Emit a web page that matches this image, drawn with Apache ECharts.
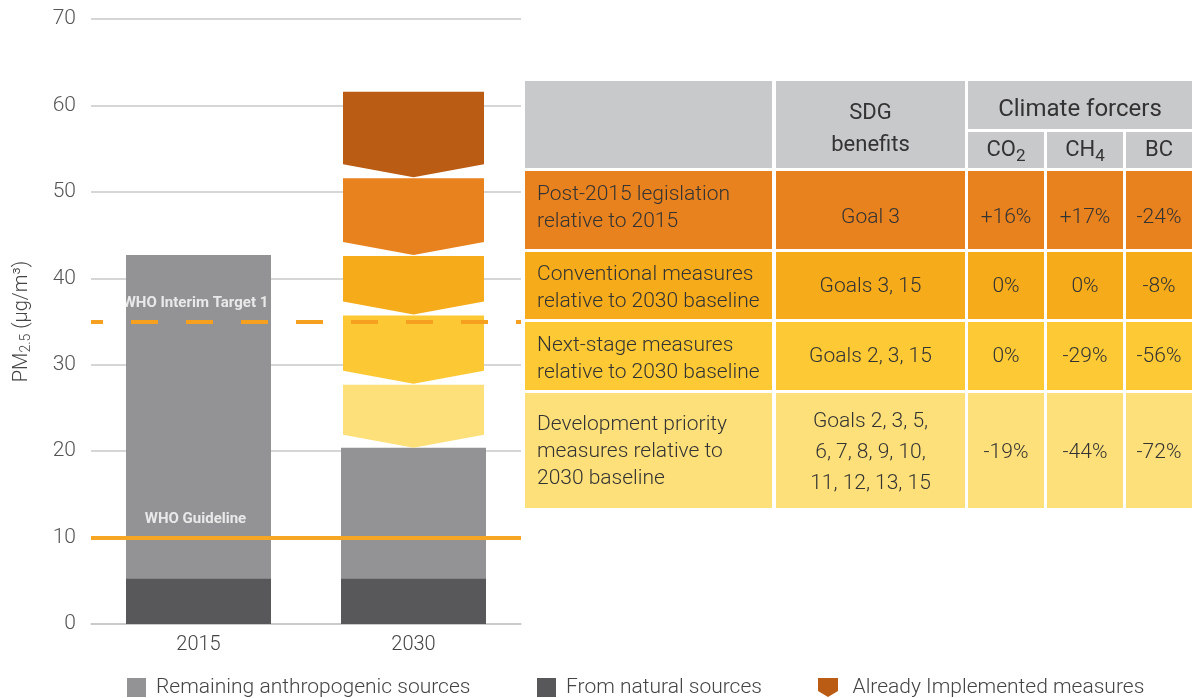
<!DOCTYPE html>
<html>
<head>
<meta charset="utf-8">
<script src="https://cdn.jsdelivr.net/npm/echarts@6/dist/echarts.min.js"></script>
<style>
html,body{margin:0;padding:0;background:#fff;}
#chart{width:1192px;height:698px;}
</style>
</head>
<body>
<div id="chart"></div>
<script>
// ---------- data ----------
const categories = ['2015', '2030'];
const naturalValues = [5.3, 5.3];
const remainingValues = [37.4, 15.1];
// measure segments at 2030: [low, high], from bottom to top
const measureLows = [20.4, 27.8, 35.8, 42.7, 51.7];
const measureHighs = [27.8, 35.8, 42.7, 51.7, 61.7];
const whoInterimTarget = 35;
const whoGuideline = 10;
const refLabels = ['WHO Interim Target 1', 'WHO Guideline'];
const yMin = 0, yMax = 70, yStep = 10;

const legendNames = ['Remaining anthropogenic sources', 'From natural sources', 'Already Implemented measures'];

const tableHeaderSdg = 'SDG\nbenefits';
const tableHeaderForcers = 'Climate forcers';
const forcerNames = ['CO{s|2}', 'CH{s|4}', 'BC'];
const rowLabels = [
  'Post-2015 legislation\nrelative to 2015',
  'Conventional measures\nrelative to 2030 baseline',
  'Next-stage measures\nrelative to 2030 baseline',
  'Development priority\nmeasures relative to\n2030 baseline'
];
const rowGoals = ['Goal 3', 'Goals 3, 15', 'Goals 2, 3, 15', 'Goals 2, 3, 5,\n6, 7, 8, 9, 10,\n11, 12, 13, 15'];
const co2Changes = ['+16%', '0%', '0%', '-19%'];
const ch4Changes = ['+17%', '0%', '-29%', '-44%'];
const bcChanges = ['-24%', '-8%', '-56%', '-72%'];

// ---------- styles ----------
const FONT = 'Roboto';
const segmentColors = ['#fee07a', '#fcc935', '#f6ac1a', '#e8821e', '#bb5c14'];
const rowColors = ['#e8821e', '#f6ac1a', '#fdc935', '#fee07a'];
const headerGrey = '#c8c9cb';
const barW = 145, chevW = 141, chevDepth = 13;

const chart = echarts.init(document.getElementById('chart'));

// table layout (pixels)
const colX = [[525, 772], [776, 965], [968, 1044], [1047, 1123], [1126, 1192]];
const rowY = [[171, 249], [252, 319], [322, 390], [393, 508]];
const labelShift = [-2, 3, 3.5, 1];
const valueShift = [8, 1, 1, 2];
const headTop = 81, headMid1 = 129, headMid2 = 132, headBot = 168;

const graphics = [];
function rect(x0, y0, x1, y1, fill) {
  graphics.push({type: 'rect', silent: true, shape: {x: x0, y: y0, width: x1 - x0, height: y1 - y0}, style: {fill: fill}});
}
function text(x, y, t, opts) {
  graphics.push({type: 'text', silent: true, x: x, y: y, z: 10, style: Object.assign({
    text: t, fontFamily: FONT, fontSize: 21, fontWeight: 300, fill: '#333',
    align: 'center', verticalAlign: 'middle', lineHeight: 27
  }, opts || {})});
}
// header
rect(colX[0][0], headTop, colX[0][1], headBot, headerGrey);
rect(colX[1][0], headTop, colX[1][1], headBot, headerGrey);
rect(colX[2][0], headTop, colX[4][1], headMid1, headerGrey);
for (let c = 2; c < 5; c++) rect(colX[c][0], headMid2, colX[c][1], headBot, headerGrey);
text((colX[1][0] + colX[1][1]) / 2, 129, tableHeaderSdg, {fontSize: 22, fontWeight: 400, lineHeight: 32});
text((colX[2][0] + colX[4][1]) / 2, 110, tableHeaderForcers, {fontSize: 24, fontWeight: 400});
for (let c = 2; c < 5; c++) {
  text((colX[c][0] + colX[c][1]) / 2, 150, forcerNames[c - 2], {
    fontSize: 22, fontWeight: 400,
    rich: {s: {fontSize: 17, fontFamily: FONT, fontWeight: 400, fill: '#333', padding: [13, 0, 0, 0]}}
  });
}
// body rows
const rowVals = [rowGoals, co2Changes, ch4Changes, bcChanges];
for (let r = 0; r < rowLabels.length; r++) {
  const [y0, y1] = rowY[r];
  const cy = (y0 + y1) / 2;
  for (let c = 0; c < 5; c++) rect(colX[c][0], y0, colX[c][1], y1, rowColors[r]);
  text(537, cy + labelShift[r], rowLabels[r], {align: 'left'});
  text((colX[1][0] + colX[1][1]) / 2, cy + valueShift[r], rowVals[0][r], {lineHeight: r === 3 ? 31 : 27});
  for (let c = 2; c < 5; c++) text((colX[c][0] + colX[c][1]) / 2, cy + valueShift[r], rowVals[c - 1][r]);
}

const measureData = measureLows.map((lo, i) => [categories[1], lo, measureHighs[i]]);

const legendText = {fontSize: 21, color: '#444', fontWeight: 300, fontFamily: FONT, padding: [0, 0, 0, 5]};

const option = {
  animation: false,
  grid: {left: 91, right: 671, top: 19, bottom: 74},
  xAxis: {
    type: 'category', data: categories,
    axisLine: {lineStyle: {color: '#c8c8c8', width: 1.5}},
    axisTick: {show: false},
    axisLabel: {fontSize: 20, color: '#444', fontWeight: 300, fontFamily: FONT, margin: 11}
  },
  yAxis: {
    type: 'value', min: yMin, max: yMax, interval: yStep,
    axisLine: {show: false}, axisTick: {show: false},
    axisLabel: {fontSize: 21, color: '#555', fontWeight: 300, fontFamily: FONT, margin: 15},
    splitLine: {lineStyle: {color: '#c8c8c8', width: 1.5}},
    name: 'PM{sub|2.5} (µg/m³)', nameLocation: 'middle', nameGap: 58, nameRotate: 90,
    nameTextStyle: {fontSize: 20, color: '#444', fontWeight: 300, fontFamily: FONT,
      rich: {sub: {fontSize: 14, fontWeight: 300, fontFamily: FONT, color: '#444', padding: [8, 0, 0, 0]}}}
  },
  legend: [
    {data: [legendNames[0]], left: 127, top: 677, padding: 0, icon: 'rect', itemWidth: 19, itemHeight: 19, textStyle: legendText, selectedMode: false},
    {data: [legendNames[1]], left: 537, top: 677, padding: 0, icon: 'rect', itemWidth: 19, itemHeight: 19, textStyle: legendText, selectedMode: false},
    {data: [{name: legendNames[2], icon: 'path://M0,0L20,0L20,13L10,19L0,13Z'}], left: 818, top: 677, padding: 0, itemWidth: 21, itemHeight: 19,
      textStyle: Object.assign({}, legendText, {padding: [0, 0, 0, 9]}), selectedMode: false}
  ],
  series: [
    {type: 'bar', name: legendNames[1], stack: 'pm', data: naturalValues, barWidth: barW, itemStyle: {color: '#58585a'}},
    {type: 'bar', name: legendNames[0], stack: 'pm', data: remainingValues, barWidth: barW, itemStyle: {color: '#939396'}},
    {
      type: 'custom', name: legendNames[2], data: measureData, itemStyle: {color: '#bb5c14'}, z: 3,
      encode: {x: 0, y: [1, 2]},
      renderItem: function (params, api) {
        const cat = api.value(0);
        const top = api.coord([cat, api.value(2)]);
        const tip = api.coord([cat, api.value(1)]);
        const x = top[0], h = chevW / 2;
        return {
          type: 'polygon',
          shape: {points: [[x - h, top[1] + 1], [x + h, top[1] + 1], [x + h, tip[1] - chevDepth], [x, tip[1]], [x - h, tip[1] - chevDepth]]},
          style: {fill: segmentColors[params.dataIndex]}
        };
      }
    },
    {
      type: 'scatter', name: 'refs', symbolSize: 0, z: 6, silent: true,
      data: [[categories[0], whoInterimTarget, refLabels[0]], [categories[0], whoGuideline, refLabels[1]]],
      label: {show: true, position: 'top', distance: 11, offset: [-3, 0], formatter: p => p.value[2],
        color: '#fff', fontWeight: 'bold', fontSize: 15, fontFamily: FONT},
      markLine: {
        silent: true, symbol: 'none', label: {show: false},
        data: [
          {yAxis: whoInterimTarget, lineStyle: {type: [27, 28], dashOffset: 15, width: 4, color: '#f5a11f'}},
          {yAxis: whoGuideline, lineStyle: {type: 'solid', width: 4, color: '#f6a623'}}
        ]
      }
    }
  ],
  graphic: graphics
};
chart.setOption(option);
</script>
</body>
</html>
